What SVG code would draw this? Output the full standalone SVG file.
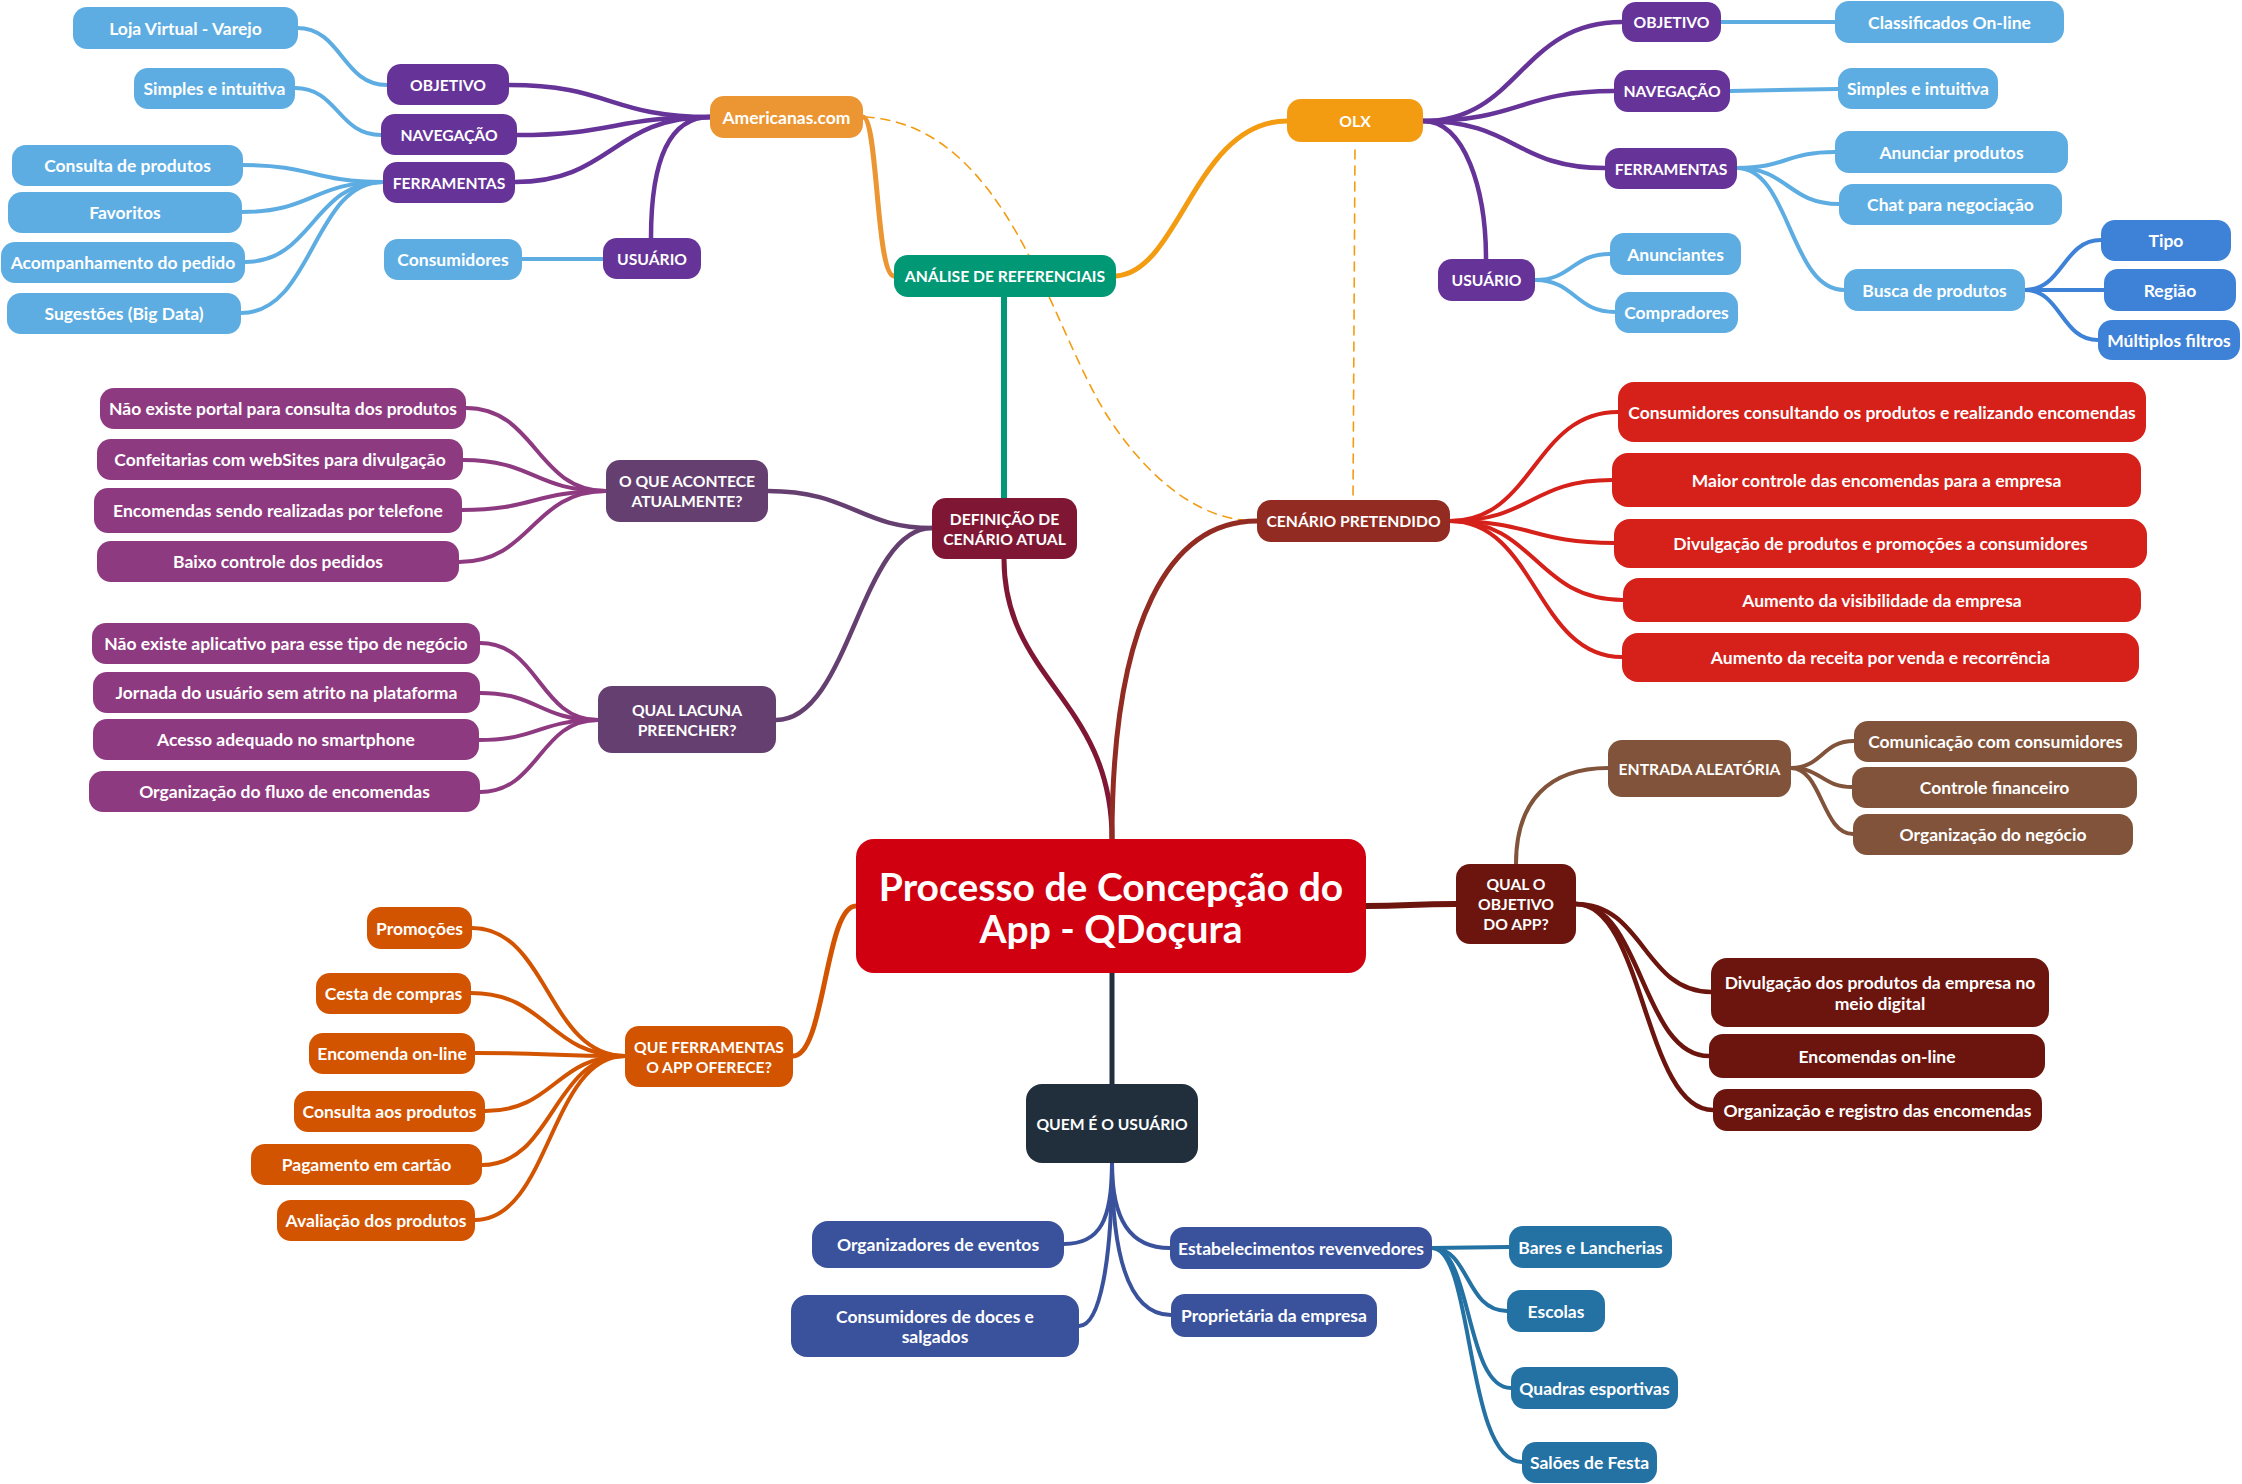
<svg xmlns="http://www.w3.org/2000/svg" width="2242" height="1484" viewBox="0 0 2242 1484">
<style>
.t{font-family:Lato,"Open Sans","Liberation Sans",sans-serif;font-weight:700;fill:#fff;text-anchor:middle;dominant-baseline:central;font-size:17.5px}
.cap{font-size:15.7px}
.big{font-size:39px}
#connectors path{fill:none;stroke-linecap:round}
.c-pur{stroke:#663399;stroke-width:4.5}
.c-lb{stroke:#5DADE2;stroke-width:4}
.c-b2{stroke:#3E82D8;stroke-width:4}
.c-amer{stroke:#EB9632;stroke-width:5}
.c-olx{stroke:#F39C12;stroke-width:5}
.c-grn{stroke:#019875;stroke-width:6}
.c-mar{stroke:#7F1734;stroke-width:5}
.c-pg{stroke:#653F70;stroke-width:4.5}
.c-lp{stroke:#8E3A80;stroke-width:4}
.c-cen{stroke:#922B21;stroke-width:5}
.c-red{stroke:#D6201A;stroke-width:4}
.c-dm{stroke:#6C150E;stroke-width:4.5}
.c-brn{stroke:#81533A;stroke-width:4}
.c-org{stroke:#D35400;stroke-width:4}
.c-dk{stroke:#212F3D;stroke-width:5}
.c-nv{stroke:#3A529C;stroke-width:4}
.c-tl{stroke:#2471A3;stroke-width:4}
.c-dash{stroke:#F39C12;stroke-width:1.6;stroke-dasharray:9 7}
.pur{fill:#663399}.lb{fill:#5DADE2}.b2{fill:#3E82D8}.amer{fill:#EB9632}.olx{fill:#F39C12}
.grn{fill:#019875}.mar{fill:#7F1734}.pg{fill:#653F70}.lp{fill:#8E3A80}.cen{fill:#922B21}
.red{fill:#D6201A}.dm{fill:#6C150E}.brn{fill:#81533A}.org{fill:#D35400}.dk{fill:#212F3D}
.nv{fill:#3A529C}.tl{fill:#2471A3}.ctr{fill:#D10010}
</style>
<rect width="2242" height="1484" fill="#fff"/>
<g id="connectors">
<path class="c-dash" d="M865 117 C1010 125 1050 330 1110 420 C1150 480 1200 521 1257 521"/>
<path class="c-dash" d="M1355 150 L1353 500"/>
<path class="c-pur" d="M710 117 C610 117 610 85 509 85"/>
<path class="c-pur" d="M710 117 C614 117 614 135 517 135"/>
<path class="c-pur" d="M710 117 C612 117 612 182 515 182"/>
<path class="c-pur" d="M710 117 C665 117 651 170 651 238"/>
<path class="c-lb" d="M387 85 C342 85 342 28 297 28"/>
<path class="c-lb" d="M381 135 C338 135 338 88 295 88"/>
<path class="c-lb" d="M383 182 C313 182 313 165 243 165"/>
<path class="c-lb" d="M383 182 C313 182 313 212 242 212"/>
<path class="c-lb" d="M383 182 C313 182 313 262 245 262"/>
<path class="c-lb" d="M383 182 C313 182 313 313 241 313"/>
<path class="c-lb" d="M603 259 L522 259"/>
<path class="c-amer" d="M894 276 C876 276 878 117 863 117"/>
<path class="c-olx" d="M1116 276 C1180 272 1195 121 1287 121"/>
<path class="c-pur" d="M1423 121 C1520 121 1520 22 1622 22"/>
<path class="c-pur" d="M1423 121 C1520 121 1520 91 1614 91"/>
<path class="c-pur" d="M1423 121 C1515 121 1515 168 1605 168"/>
<path class="c-pur" d="M1423 121 C1465 121 1486 190 1486 259"/>
<path class="c-lb" d="M1721 22 L1835 22"/>
<path class="c-lb" d="M1730 91 L1838 89"/>
<path class="c-lb" d="M1737 168 C1786 168 1786 152 1835 152"/>
<path class="c-lb" d="M1737 168 C1788 168 1788 204 1839 204"/>
<path class="c-lb" d="M1737 168 C1790 168 1790 290 1844 290"/>
<path class="c-lb" d="M1535 280 C1572 280 1572 254 1610 254"/>
<path class="c-lb" d="M1535 280 C1575 280 1575 312 1615 312"/>
<path class="c-b2" d="M2025 290 C2063 290 2063 240 2101 240"/>
<path class="c-b2" d="M2025 290 L2104 290"/>
<path class="c-b2" d="M2025 290 C2061 290 2061 340 2098 340"/>
<path class="c-grn" d="M1004 297 L1004 498"/>
<path class="c-mar" d="M1112 839 C1112 700 1004 680 1004 559"/>
<path class="c-cen" d="M1112 839 C1112 620 1170 521 1257 521"/>
<path class="c-pg" d="M932 528 C860 528 850 491 768 491"/>
<path class="c-pg" d="M932 528 C860 528 850 720 776 720"/>
<path class="c-lp" d="M606 491 C536 491 536 408 466 408"/>
<path class="c-lp" d="M606 491 C534 491 534 460 463 460"/>
<path class="c-lp" d="M606 491 C534 491 534 510 462 510"/>
<path class="c-lp" d="M606 491 C532 491 532 562 459 562"/>
<path class="c-lp" d="M598 720 C539 720 539 643 480 643"/>
<path class="c-lp" d="M598 720 C539 720 539 693 480 693"/>
<path class="c-lp" d="M598 720 C539 720 539 740 479 740"/>
<path class="c-lp" d="M598 720 C539 720 539 792 480 792"/>
<path class="c-red" d="M1450 521 C1534 521 1534 412 1618 412"/>
<path class="c-red" d="M1450 521 C1531 521 1531 480 1612 480"/>
<path class="c-red" d="M1450 521 C1532 521 1532 543 1614 543"/>
<path class="c-red" d="M1450 521 C1536 521 1536 600 1623 600"/>
<path class="c-red" d="M1450 521 C1536 521 1536 657 1622 657"/>
<path class="c-dm" d="M1366 906 C1410 906 1410 904 1456 904" style="stroke-width:6"/>
<path class="c-brn" d="M1516 864 C1516 800 1550 768 1608 768"/>
<path class="c-brn" d="M1791 768 C1822 768 1822 741 1854 741"/>
<path class="c-brn" d="M1791 768 C1822 768 1822 787 1852 787"/>
<path class="c-brn" d="M1791 768 C1822 768 1822 834 1853 834"/>
<path class="c-dm" d="M1576 904 C1644 904 1644 992 1711 992"/>
<path class="c-dm" d="M1576 904 C1642 904 1642 1056 1709 1056"/>
<path class="c-dm" d="M1576 904 C1644 904 1644 1110 1713 1110"/>
<path class="c-org" d="M856 906 C825 906 825 1056 793 1056" style="stroke-width:5"/>
<path class="c-org" d="M625 1056 C548 1056 548 928 472 928"/>
<path class="c-org" d="M625 1056 C548 1056 548 993 471 993"/>
<path class="c-org" d="M625 1056 C550 1056 550 1053 475 1053"/>
<path class="c-org" d="M625 1056 C555 1056 555 1111 485 1111"/>
<path class="c-org" d="M625 1056 C553 1056 553 1165 482 1165"/>
<path class="c-org" d="M625 1056 C550 1056 550 1220 475 1220"/>
<path class="c-dk" d="M1112 973 L1112 1084"/>
<path class="c-nv" d="M1112 1163 C1112 1220 1100 1244 1064 1244"/>
<path class="c-nv" d="M1112 1163 C1112 1260 1100 1326 1079 1326"/>
<path class="c-nv" d="M1112 1163 C1112 1220 1130 1248 1170 1248"/>
<path class="c-nv" d="M1112 1163 C1112 1260 1130 1315 1171 1315"/>
<path class="c-tl" d="M1432 1248 C1470 1248 1470 1247 1509 1247"/>
<path class="c-tl" d="M1432 1248 C1470 1248 1465 1311 1507 1311"/>
<path class="c-tl" d="M1432 1248 C1472 1248 1465 1388 1511 1388"/>
<path class="c-tl" d="M1432 1248 C1474 1248 1465 1462 1522 1462"/>
</g>
<g id="n-loja"><rect class="lb" x="73" y="7" width="225" height="42" rx="14"/><text class="t" x="185.5" y="28">Loja Virtual - Varejo</text></g>
<g id="n-simples-l"><rect class="lb" x="134" y="68" width="161" height="41" rx="14"/><text class="t" x="214.5" y="88.5">Simples e intuitiva</text></g>
<g id="n-obj-l"><rect class="pur" x="387" y="64" width="122" height="41" rx="14"/><text class="t cap" x="448" y="84.5">OBJETIVO</text></g>
<g id="n-nav-l"><rect class="pur" x="381" y="114" width="136" height="41" rx="14"/><text class="t cap" x="449" y="134.5">NAVEGAÇÃO</text></g>
<g id="n-fer-l"><rect class="pur" x="383" y="162" width="132" height="41" rx="14"/><text class="t cap" x="449" y="182.5">FERRAMENTAS</text></g>
<g id="n-consulta"><rect class="lb" x="12" y="145" width="231" height="41" rx="14"/><text class="t" x="127.5" y="165.5">Consulta de produtos</text></g>
<g id="n-fav"><rect class="lb" x="8" y="192" width="234" height="41" rx="14"/><text class="t" x="125" y="212.5">Favoritos</text></g>
<g id="n-acomp"><rect class="lb" x="1" y="242" width="244" height="41" rx="14"/><text class="t" x="123" y="262.5">Acompanhamento do pedido</text></g>
<g id="n-sug"><rect class="lb" x="7" y="293" width="234" height="41" rx="14"/><text class="t" x="124" y="313.5">Sugestões (Big Data)</text></g>
<g id="n-consumidores"><rect class="lb" x="384" y="239" width="138" height="41" rx="14"/><text class="t" x="453" y="259.5">Consumidores</text></g>
<g id="n-usuario-l"><rect class="pur" x="603" y="238" width="98" height="41" rx="14"/><text class="t cap" x="652" y="258.5">USUÁRIO</text></g>
<g id="n-americanas"><rect class="amer" x="710" y="96" width="153" height="42" rx="14"/><text class="t" x="786.5" y="117">Americanas.com</text></g>
<g id="n-analise"><rect class="grn" x="894" y="255" width="222" height="42" rx="14"/><text class="t cap" x="1005" y="276">ANÁLISE DE REFERENCIAIS</text></g>
<g id="n-olx"><rect class="olx" x="1287" y="99" width="136" height="43" rx="14"/><text class="t cap" x="1355" y="120.5">OLX</text></g>
<g id="n-obj-r"><rect class="pur" x="1622" y="2" width="99" height="40" rx="14"/><text class="t cap" x="1671.5" y="22">OBJETIVO</text></g>
<g id="n-class"><rect class="lb" x="1835" y="1" width="229" height="42" rx="14"/><text class="t" x="1949.5" y="22">Classificados On-line</text></g>
<g id="n-nav-r"><rect class="pur" x="1614" y="70" width="116" height="42" rx="14"/><text class="t cap" x="1672" y="91">NAVEGAÇÃO</text></g>
<g id="n-simples-r"><rect class="lb" x="1838" y="68" width="160" height="41" rx="14"/><text class="t" x="1918" y="88.5">Simples e intuitiva</text></g>
<g id="n-fer-r"><rect class="pur" x="1605" y="148" width="132" height="41" rx="14"/><text class="t cap" x="1671" y="168.5">FERRAMENTAS</text></g>
<g id="n-anunciar"><rect class="lb" x="1835" y="131" width="233" height="42" rx="14"/><text class="t" x="1951.5" y="152">Anunciar produtos</text></g>
<g id="n-chat"><rect class="lb" x="1839" y="184" width="223" height="41" rx="14"/><text class="t" x="1950.5" y="204.5">Chat para negociação</text></g>
<g id="n-usuario-r"><rect class="pur" x="1438" y="259" width="97" height="42" rx="14"/><text class="t cap" x="1486.5" y="280">USUÁRIO</text></g>
<g id="n-anunciantes"><rect class="lb" x="1610" y="233" width="131" height="42" rx="14"/><text class="t" x="1675.5" y="254">Anunciantes</text></g>
<g id="n-compradores"><rect class="lb" x="1615" y="292" width="123" height="41" rx="14"/><text class="t" x="1676.5" y="312.5">Compradores</text></g>
<g id="n-busca"><rect class="lb" x="1844" y="269" width="181" height="42" rx="14"/><text class="t" x="1934.5" y="290">Busca de produtos</text></g>
<g id="n-tipo"><rect class="b2" x="2101" y="220" width="130" height="41" rx="14"/><text class="t" x="2166" y="240.5">Tipo</text></g>
<g id="n-regiao"><rect class="b2" x="2104" y="269" width="132" height="42" rx="14"/><text class="t" x="2170" y="290">Região</text></g>
<g id="n-multi"><rect class="b2" x="2098" y="320" width="142" height="40" rx="14"/><text class="t" x="2169" y="340">Múltiplos filtros</text></g>
<g id="n-def"><rect class="mar" x="932" y="498" width="145" height="61" rx="14"/><text class="t cap" x="1004.5" y="518.5">DEFINIÇÃO DE<tspan x="1004.5" dy="20">CENÁRIO ATUAL</tspan></text></g>
<g id="n-oque"><rect class="pg" x="606" y="460" width="162" height="62" rx="14"/><text class="t cap" x="687" y="481">O QUE ACONTECE<tspan x="687" dy="20">ATUALMENTE?</tspan></text></g>
<g id="n-oq1"><rect class="lp" x="100" y="388" width="366" height="41" rx="14"/><text class="t" x="283" y="408.5">Não existe portal para consulta dos produtos</text></g>
<g id="n-oq2"><rect class="lp" x="97" y="439" width="366" height="41" rx="14"/><text class="t" x="280" y="459.5">Confeitarias com webSites para divulgação</text></g>
<g id="n-oq3"><rect class="lp" x="94" y="488" width="368" height="45" rx="14"/><text class="t" x="278" y="510.5">Encomendas sendo realizadas por telefone</text></g>
<g id="n-oq4"><rect class="lp" x="97" y="541" width="362" height="41" rx="14"/><text class="t" x="278" y="561.5">Baixo controle dos pedidos</text></g>
<g id="n-lacuna"><rect class="pg" x="598" y="686" width="178" height="67" rx="14"/><text class="t cap" x="687" y="709.5">QUAL LACUNA<tspan x="687" dy="20">PREENCHER?</tspan></text></g>
<g id="n-la1"><rect class="lp" x="92" y="623" width="388" height="41" rx="14"/><text class="t" x="286" y="643.5">Não existe aplicativo para esse tipo de negócio</text></g>
<g id="n-la2"><rect class="lp" x="93" y="672" width="387" height="41" rx="14"/><text class="t" x="286.5" y="692.5">Jornada do usuário sem atrito na plataforma</text></g>
<g id="n-la3"><rect class="lp" x="93" y="719" width="386" height="41" rx="14"/><text class="t" x="286" y="739.5">Acesso adequado no smartphone</text></g>
<g id="n-la4"><rect class="lp" x="89" y="771" width="391" height="41" rx="14"/><text class="t" x="284.5" y="791.5">Organização do fluxo de encomendas</text></g>
<g id="n-cen"><rect class="cen" x="1257" y="500" width="193" height="42" rx="14"/><text class="t cap" x="1353.5" y="521">CENÁRIO PRETENDIDO</text></g>
<g id="n-ce1"><rect class="red" x="1618" y="382" width="528" height="60" rx="16"/><text class="t" x="1882" y="412">Consumidores consultando os produtos e realizando encomendas</text></g>
<g id="n-ce2"><rect class="red" x="1612" y="453" width="529" height="54" rx="16"/><text class="t" x="1876.5" y="480">Maior controle das encomendas para a empresa</text></g>
<g id="n-ce3"><rect class="red" x="1614" y="519" width="533" height="49" rx="16"/><text class="t" x="1880.5" y="543.5">Divulgação de produtos e promoções a consumidores</text></g>
<g id="n-ce4"><rect class="red" x="1623" y="578" width="518" height="44" rx="16"/><text class="t" x="1882" y="600">Aumento da visibilidade da empresa</text></g>
<g id="n-ce5"><rect class="red" x="1622" y="633" width="517" height="49" rx="16"/><text class="t" x="1880.5" y="657.5">Aumento da receita por venda e recorrência</text></g>
<g id="n-center"><rect class="ctr" x="856" y="839" width="510" height="134" rx="18"/><text class="t big" x="1111" y="886">Processo de Concepção do<tspan x="1111" dy="42">App - QDoçura</tspan></text></g>
<g id="n-qual"><rect class="dm" x="1456" y="864" width="120" height="80" rx="14"/><text class="t cap" x="1516" y="884">QUAL O<tspan x="1516" dy="20">OBJETIVO</tspan><tspan x="1516" dy="20">DO APP?</tspan></text></g>
<g id="n-entrada"><rect class="brn" x="1608" y="740" width="183" height="57" rx="14"/><text class="t cap" x="1699.5" y="768.5">ENTRADA ALEATÓRIA</text></g>
<g id="n-en1"><rect class="brn" x="1854" y="721" width="283" height="41" rx="14"/><text class="t" x="1995.5" y="741.5">Comunicação com consumidores</text></g>
<g id="n-en2"><rect class="brn" x="1852" y="767" width="285" height="41" rx="14"/><text class="t" x="1994.5" y="787.5">Controle financeiro</text></g>
<g id="n-en3"><rect class="brn" x="1853" y="814" width="280" height="41" rx="14"/><text class="t" x="1993" y="834.5">Organização do negócio</text></g>
<g id="n-ob1"><rect class="dm" x="1711" y="958" width="338" height="69" rx="16"/><text class="t" x="1880" y="982.5">Divulgação dos produtos da empresa no<tspan x="1880" dy="20">meio digital</tspan></text></g>
<g id="n-ob2"><rect class="dm" x="1709" y="1034" width="336" height="44" rx="14"/><text class="t" x="1877" y="1056">Encomendas on-line</text></g>
<g id="n-ob3"><rect class="dm" x="1713" y="1089" width="329" height="42" rx="14"/><text class="t" x="1877.5" y="1110">Organização e registro das encomendas</text></g>
<g id="n-quef"><rect class="org" x="625" y="1026" width="168" height="61" rx="14"/><text class="t cap" x="709" y="1046.5">QUE FERRAMENTAS<tspan x="709" dy="20">O APP OFERECE?</tspan></text></g>
<g id="n-qf1"><rect class="org" x="367" y="907" width="105" height="42" rx="14"/><text class="t" x="419.5" y="928">Promoções</text></g>
<g id="n-qf2"><rect class="org" x="316" y="973" width="155" height="41" rx="14"/><text class="t" x="393.5" y="993.5">Cesta de compras</text></g>
<g id="n-qf3"><rect class="org" x="309" y="1033" width="166" height="41" rx="14"/><text class="t" x="392" y="1053.5">Encomenda on-line</text></g>
<g id="n-qf4"><rect class="org" x="294" y="1091" width="191" height="41" rx="14"/><text class="t" x="389.5" y="1111.5">Consulta aos produtos</text></g>
<g id="n-qf5"><rect class="org" x="251" y="1144" width="231" height="41" rx="14"/><text class="t" x="366.5" y="1164.5">Pagamento em cartão</text></g>
<g id="n-qf6"><rect class="org" x="277" y="1200" width="198" height="41" rx="14"/><text class="t" x="376" y="1220.5">Avaliação dos produtos</text></g>
<g id="n-quem"><rect class="dk" x="1026" y="1084" width="172" height="79" rx="16"/><text class="t cap" x="1112" y="1123.5">QUEM É O USUÁRIO</text></g>
<g id="n-qu1"><rect class="nv" x="812" y="1221" width="252" height="47" rx="16"/><text class="t" x="938" y="1244.5">Organizadores de eventos</text></g>
<g id="n-qu2"><rect class="nv" x="791" y="1295" width="288" height="62" rx="16"/><text class="t" x="935" y="1316">Consumidores de doces e<tspan x="935" dy="20">salgados</tspan></text></g>
<g id="n-qu3"><rect class="nv" x="1170" y="1227" width="262" height="42" rx="14"/><text class="t" x="1301" y="1248">Estabelecimentos revenvedores</text></g>
<g id="n-qu4"><rect class="nv" x="1171" y="1294" width="206" height="43" rx="14"/><text class="t" x="1274" y="1315.5">Proprietária da empresa</text></g>
<g id="n-es1"><rect class="tl" x="1509" y="1226" width="163" height="42" rx="14"/><text class="t" x="1590.5" y="1247">Bares e Lancherias</text></g>
<g id="n-es2"><rect class="tl" x="1507" y="1290" width="98" height="42" rx="14"/><text class="t" x="1556" y="1311">Escolas</text></g>
<g id="n-es3"><rect class="tl" x="1511" y="1367" width="167" height="42" rx="14"/><text class="t" x="1594.5" y="1388">Quadras esportivas</text></g>
<g id="n-es4"><rect class="tl" x="1522" y="1442" width="135" height="41" rx="14"/><text class="t" x="1589.5" y="1462.5">Salões de Festa</text></g>
</svg>
